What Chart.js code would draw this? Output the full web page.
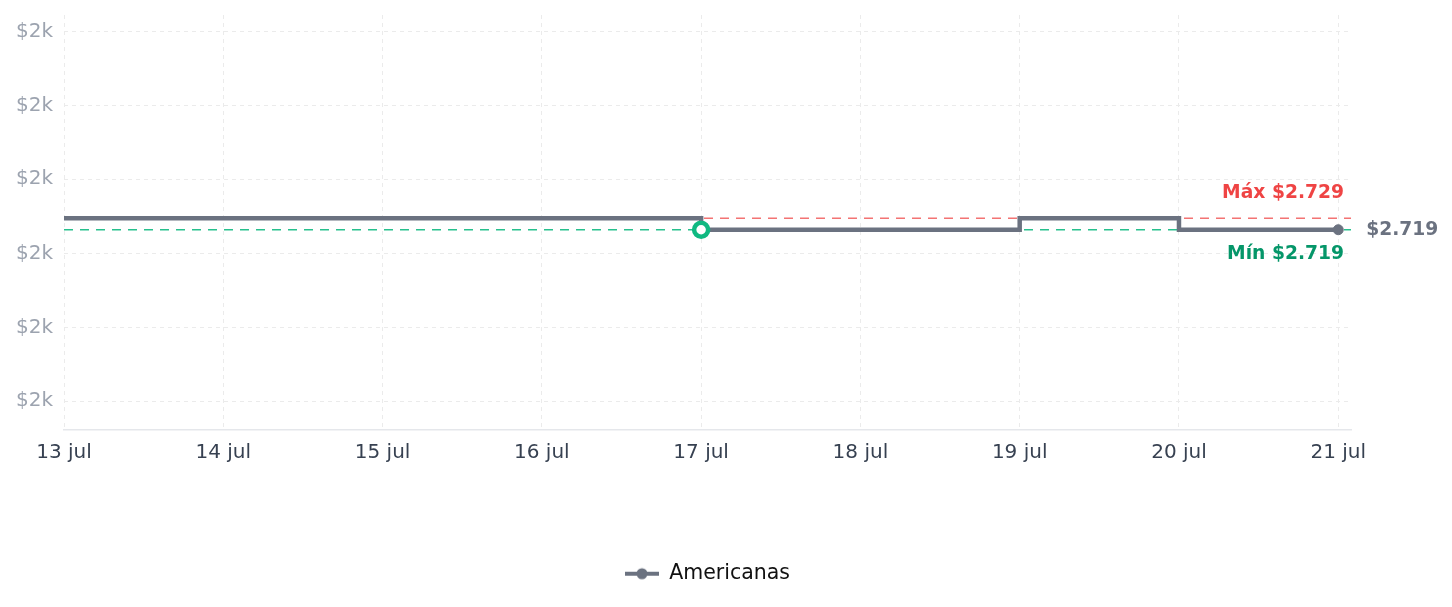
<!DOCTYPE html>
<html>
<head>
<meta charset="utf-8">
<script src="https://cdn.jsdelivr.net/npm/chart.js@4.4.0/dist/chart.umd.min.js"></script>
<style>
  html, body { margin: 0; padding: 0; background: #fff; }
  #wrap { width: 1452px; height: 607px; }
</style>
</head>
<body>
<div id="wrap"><canvas id="priceChart"></canvas></div>
<script>
// data
const dates = ["13 jul", "14 jul", "15 jul", "16 jul", "17 jul", "18 jul", "19 jul", "20 jul", "21 jul"];
const prices = [2729, 2729, 2729, 2729, 2719, 2719, 2729, 2719, 2719];
const yTicks = [2570, 2634, 2698, 2763, 2827, 2891];
const yMin = 2545.5;
const yMax = 2905.5;
const seriesName = "Americanas";

const maxPrice = Math.max(...prices);
const minPrice = Math.min(...prices);
const minIdx = prices.indexOf(minPrice);
const lastIdx = prices.length - 1;

const GRAY = "#6b7280";
const FONT = "DejaVu Sans";

// 1.234 -> "$1.234"
const brl = v => "$" + String(v).replace(/\B(?=(\d{3})+(?!\d))/g, ".");

// legend icon: line with a dot in the middle
const legendIcon = document.createElement("canvas");
legendIcon.width = 34;
legendIcon.height = 14;
(() => {
  const c = legendIcon.getContext("2d");
  c.strokeStyle = GRAY;
  c.lineWidth = 4;
  c.beginPath();
  c.moveTo(0, 7);
  c.lineTo(34, 7);
  c.stroke();
  c.fillStyle = GRAY;
  c.beginPath();
  c.arc(17, 7, 5.5, 0, Math.PI * 2);
  c.fill();
})();

// max / min reference lines + labels
const refLines = {
  id: "refLines",
  beforeDatasetsDraw(chart) {
    const { ctx, chartArea: a, scales: { y } } = chart;
    const line = (v, color) => {
      const py = y.getPixelForValue(v);
      ctx.save();
      ctx.strokeStyle = color;
      ctx.lineWidth = 1.5;
      ctx.setLineDash([9, 7]);
      ctx.beginPath();
      ctx.moveTo(a.left, py);
      ctx.lineTo(a.right, py);
      ctx.stroke();
      ctx.restore();
    };
    line(maxPrice, "rgba(239,68,68,0.75)");
    line(minPrice, "rgba(16,185,129,0.9)");
  },
  afterDatasetsDraw(chart) {
    const { ctx, chartArea: a, scales: { x, y } } = chart;
    ctx.save();
    ctx.font = "bold 18.7px '" + FONT + "'";
    ctx.textBaseline = "middle";
    ctx.textAlign = "right";
    ctx.fillStyle = "#ef4444";
    ctx.fillText("Máx " + brl(maxPrice), a.right - 7, y.getPixelForValue(maxPrice) - 25);
    ctx.fillStyle = "#059669";
    ctx.fillText("Mín " + brl(minPrice), a.right - 7, y.getPixelForValue(minPrice) + 24);
    ctx.textAlign = "left";
    ctx.fillStyle = GRAY;
    ctx.fillText(brl(prices[lastIdx]), x.getPixelForValue(lastIdx) + 28, y.getPixelForValue(prices[lastIdx]));
    ctx.restore();
  }
};

const ctx = document.getElementById("priceChart");

new Chart(ctx, {
  type: "line",
  data: {
    datasets: [
      {
        label: seriesName,
        data: prices.map((v, i) => ({ x: i, y: v })),
        borderColor: GRAY,
        borderWidth: 4.5,
        stepped: true,
        fill: false,
        borderJoinStyle: "miter",
        pointRadius: c => (c.dataIndex === minIdx ? 7 : c.dataIndex === lastIdx ? 5 : 0),
        pointBorderWidth: c => (c.dataIndex === minIdx ? 4.5 : 1),
        pointBackgroundColor: c => (c.dataIndex === minIdx ? "#ffffff" : GRAY),
        pointBorderColor: c => (c.dataIndex === minIdx ? "#10b981" : GRAY),
        pointHoverRadius: 0,
      },
    ],
  },
  options: {
    responsive: true,
    maintainAspectRatio: false,
    animation: false,
    layout: {
      padding: { top: 15, right: 101, bottom: 13, left: 0 },
    },
    scales: {
      x: {
        type: "linear",
        min: 0,
        max: 8.08,
        afterBuildTicks: s => {
          s.ticks = dates.map((d, i) => ({ value: i }));
        },
        afterFit: s => {
          s.height = 124;
          s.paddingLeft = 0;
          s.paddingRight = 0;
        },
        grid: {
          color: "#ebebeb",
          drawTicks: false,
        },
        border: {
          display: true,
          color: "#e5e7eb",
          width: 1.5,
          dash: [4, 4],
        },
        ticks: {
          padding: 11,
          color: "#374151",
          font: { size: 20, family: FONT },
          maxRotation: 0,
          callback: v => dates[v],
        },
      },
      y: {
        min: yMin,
        max: yMax,
        afterBuildTicks: s => {
          s.ticks = yTicks.map(v => ({ value: v }));
        },
        afterFit: s => {
          s.width = 64;
          s.paddingTop = 0;
          s.paddingBottom = 0;
        },
        grid: {
          color: "#ebebeb",
          drawTicks: false,
        },
        border: {
          display: false,
          dash: [4, 4],
        },
        ticks: {
          padding: 11,
          color: "#9ca3af",
          font: { size: 20, family: FONT },
          callback: v => "$" + Math.floor(v / 1000) + "k", // every label reads $2k
        },
      },
    },
    plugins: {
      legend: {
        position: "bottom",
        fullSize: false,
        labels: {
          usePointStyle: true,
          pointStyle: legendIcon,
          pointStyleWidth: 34,
          padding: 10,
          color: "#111111",
          font: { size: 20.5, family: FONT },
        },
      },
      tooltip: { enabled: false },
    },
  },
  plugins: [refLines],
});
</script>
</body>
</html>
